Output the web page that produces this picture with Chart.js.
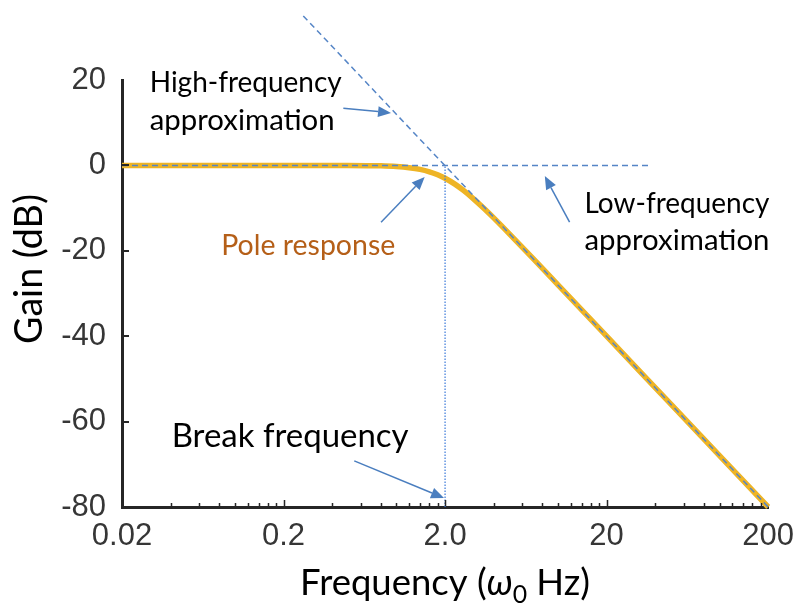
<!DOCTYPE html>
<html><head><meta charset="utf-8">
<script src="https://cdn.jsdelivr.net/npm/chart.js@4.4.1/dist/chart.umd.min.js"></script>
<style>html,body{margin:0;padding:0;background:#fff;overflow:hidden}#wrap{width:805px;height:612px}</style>
</head><body><div id="wrap"><canvas id="c" width="805" height="612"></canvas></div>
<script>
// ---- data ----
const freqTicks = [0.02, 0.2, 2.0, 20, 200];
const freqTickLabels = ['0.02', '0.2', '2.0', '20', '200'];
const minorFreqTicks = [0.04, 0.06, 0.08, 0.1, 0.12, 0.14, 0.16, 0.18,
  0.4, 0.6, 0.8, 1.0, 1.2, 1.4, 1.6, 1.8,
  4, 6, 8, 10, 12, 14, 16, 18,
  40, 60, 80, 100, 120, 140, 160, 180];
const gainTicks = [20, 0, -20, -40, -60, -80];
const gainTickLabels = ['20', '0', '-20', '-40', '-60', '-80'];

const poleFreq = [0.02, 0.2, 0.5, 0.8, 1.0, 1.2, 1.4, 1.6, 1.8, 2.0, 2.3, 2.6, 3.0, 3.5, 4.0, 5.0, 7.0, 10, 20, 50, 100, 200];
const poleGain = [0, 0, -0.02, -0.11, -0.26, -0.53, -0.93, -1.49, -2.19, -3.01, -4.39, -5.86, -7.83, -10.16, -12.3, -16.03, -21.79, -27.97, -40, -55.92, -67.96, -80];

const lowApproxFreq = [0.02, 38];
const lowApproxGain = [0, 0];
const highApproxFreq = [0.265, 200];
const highApproxGain = [35, -80];
const breakLineFreq = [2.0, 2.0];
const breakLineGain = [-80, 0];

// annotation anchors (in data units: frequency, gain)
const noteTexts = ['High-frequency', 'approximation', 'Pole response', 'Low-frequency', 'approximation', 'Break frequency'];
const noteFreq = [0.0297, 0.0297, 0.0823, 14.6, 14.6, 0.0406];
const noteGain = [17.2, 8.3, -21.0, -11.2, -19.8, -66.0];
const arrowFrom = [[0.469, 13.4], [0.803, -13.3], [11.8, -13.3], [0.548, -69.2]];
const arrowTo = [[0.926, 12.3], [1.496, -2.7], [8.29, -2.5], [1.97, -77.9]];

// ---- styles ----
const noteStyle = {
  widths: [192, 185, 174, 185, 185, 237],
  colors: ['#000', '#000', '#B55F18', '#000', '#000', '#000'],
  family: 'Lato'
};
const axisColor = '#262626';
const tickColor = '#363636';
const dashBlue = '#5585C6';
const arrowBlue = '#4A7EBF';

const zip = (xs, ys) => xs.map((x, i) => ({ x: x, y: ys[i] }));

function fitSize(ctx, text, family, target, style) {
  ctx.font = (style || '') + ' 100px ' + family;
  return 100 * target / ctx.measureText(text).width;
}

const overlay = {
  id: 'overlay',
  afterDraw(chart) {
    const ctx = chart.ctx, xs = chart.scales.x, ys = chart.scales.y;
    const ca = chart.chartArea;
    ctx.save();
    // inner tick marks
    ctx.strokeStyle = axisColor;
    ctx.lineWidth = 1.5;
    ctx.beginPath();
    minorFreqTicks.forEach(v => {
      const px = Math.round(xs.getPixelForValue(v)) + 0.5;
      ctx.moveTo(px, ca.bottom - 1); ctx.lineTo(px, ca.bottom - 4);
    });
    freqTicks.slice(1, -1).forEach(v => {
      const px = Math.round(xs.getPixelForValue(v)) + 0.5;
      ctx.moveTo(px, ca.bottom - 1); ctx.lineTo(px, ca.bottom - 7);
    });
    ctx.stroke();
    ctx.lineWidth = 2;
    ctx.beginPath();
    gainTicks.slice(1, -1).forEach(v => {
      const py = Math.round(ys.getPixelForValue(v));
      ctx.moveTo(ca.left, py); ctx.lineTo(ca.left + 7, py);
    });
    ctx.stroke();

    // arrows
    ctx.strokeStyle = arrowBlue; ctx.fillStyle = arrowBlue; ctx.lineWidth = 1.5;
    arrowFrom.forEach((a, i) => {
      const x0 = xs.getPixelForValue(a[0]), y0 = ys.getPixelForValue(a[1]);
      const x1 = xs.getPixelForValue(arrowTo[i][0]), y1 = ys.getPixelForValue(arrowTo[i][1]);
      const ang = Math.atan2(y1 - y0, x1 - x0), L = 13, W = 5.5;
      const bx = x1 - L * Math.cos(ang), by = y1 - L * Math.sin(ang);
      ctx.beginPath(); ctx.moveTo(x0, y0); ctx.lineTo(bx, by); ctx.stroke();
      ctx.beginPath();
      ctx.moveTo(x1, y1);
      ctx.lineTo(bx + W * Math.sin(ang), by - W * Math.cos(ang));
      ctx.lineTo(bx - W * Math.sin(ang), by + W * Math.cos(ang));
      ctx.closePath(); ctx.fill();
    });

    // annotation texts
    ctx.textAlign = 'left'; ctx.textBaseline = 'alphabetic';
    noteTexts.forEach((t, i) => {
      const size = fitSize(ctx, t, noteStyle.family, noteStyle.widths[i]);
      ctx.font = size.toFixed(2) + 'px ' + noteStyle.family;
      ctx.fillStyle = noteStyle.colors[i];
      ctx.fillText(t, xs.getPixelForValue(noteFreq[i]), ys.getPixelForValue(noteGain[i]));
    });

    // x-axis title: Frequency (ω0 Hz)
    const fam = noteStyle.family;
    const parts = [
      { t: 'Frequency (', s: '', k: 1, dy: 0 },
      { t: 'ω', s: 'italic', k: 1, dy: 0 },
      { t: '0', s: '', k: 0.68, dy: 8 },
      { t: ' Hz)', s: '', k: 1, dy: 0 }
    ];
    let base = 36, tot = 0;
    parts.forEach(p => { ctx.font = p.s + ' ' + (base * p.k) + 'px ' + fam; tot += ctx.measureText(p.t).width; });
    base *= 290 / tot;
    let cx = (ca.left + ca.right) / 2 - 290 / 2;
    const by = 595;
    ctx.fillStyle = '#000';
    parts.forEach(p => {
      ctx.font = p.s + ' ' + (base * p.k).toFixed(2) + 'px ' + fam;
      ctx.fillText(p.t, cx, by + p.dy);
      cx += ctx.measureText(p.t).width;
    });

    // y-axis title
    const ysz = fitSize(ctx, 'Gain (dB)', fam, 150);
    ctx.font = ysz.toFixed(2) + 'px ' + fam;
    ctx.translate(42, 269);
    ctx.rotate(-Math.PI / 2);
    ctx.textAlign = 'center';
    ctx.fillText('Gain (dB)', 0, 0);
    ctx.restore();
  }
};

new Chart(document.getElementById('c').getContext('2d'), {
  type: 'line',
  data: {
    datasets: [
      { label: 'Low-frequency approximation', data: zip(lowApproxFreq, lowApproxGain), borderColor: dashBlue, borderWidth: 1.5, borderDash: [6, 4], pointRadius: 0, order: 1, clip: false },
      { label: 'High-frequency approximation', data: zip(highApproxFreq, highApproxGain), borderColor: dashBlue, borderWidth: 1.5, borderDash: [6, 4], pointRadius: 0, order: 1, clip: false },
      { label: 'Break frequency', data: zip(breakLineFreq, breakLineGain), borderColor: '#3A78D8', borderWidth: 1.2, borderDash: [1.5, 1.5], pointRadius: 0, order: 2, clip: false },
      { label: 'Pole response', data: zip(poleFreq, poleGain), borderColor: '#EEB425', borderWidth: 5.5, cubicInterpolationMode: 'monotone', pointRadius: 0, order: 3, clip: false }
    ]
  },
  options: {
    responsive: false, animation: false, devicePixelRatio: 1,
    layout: { padding: { top: 80, right: 32, left: 0, bottom: 0 } },
    plugins: { legend: { display: false }, tooltip: { enabled: false } },
    scales: {
      x: {
        type: 'logarithmic', min: 0.02, max: 200,
        afterBuildTicks: s => { s.ticks = freqTicks.map(v => ({ value: v })); },
        afterFit: s => { s.height = 105; },
        ticks: {
          autoSkip: false, maxRotation: 0, padding: 11, color: tickColor,
          font: { family: 'Liberation Sans', size: 31 },
          callback: v => freqTickLabels[freqTicks.indexOf(v)]
        },
        grid: { display: false, drawTicks: false },
        border: { display: true, color: axisColor, width: 3 }
      },
      y: {
        min: -80, max: 20,
        afterBuildTicks: s => { s.ticks = gainTicks.map(v => ({ value: v })); },
        afterFit: s => { s.width = 122; },
        ticks: {
          autoSkip: false, padding: 16, color: tickColor,
          font: { family: 'Liberation Sans', size: 31 },
          callback: v => gainTickLabels[gainTicks.indexOf(v)]
        },
        grid: { display: false, drawTicks: false },
        border: { display: true, color: axisColor, width: 3 }
      }
    }
  },
  plugins: [overlay]
});
</script>
</body></html>
